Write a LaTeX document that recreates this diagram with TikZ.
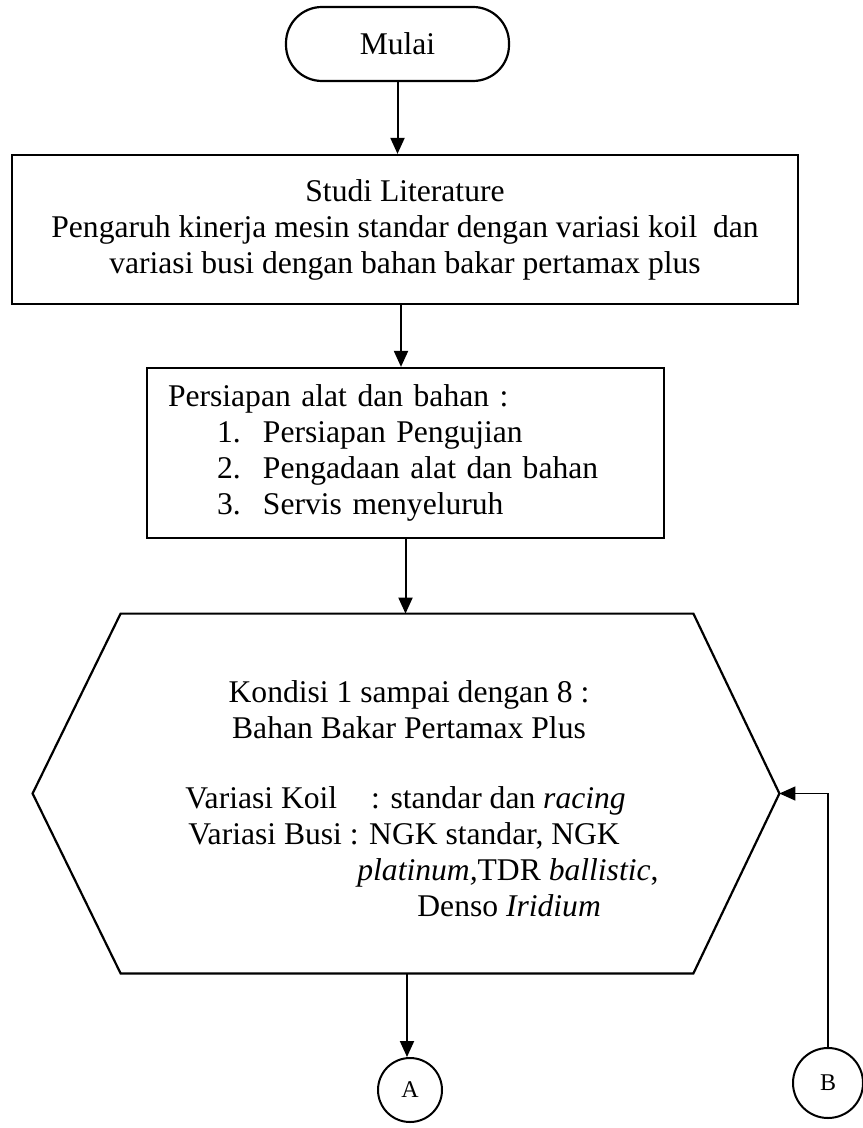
\documentclass[tikz,border=0pt]{standalone}
\usepackage{fontspec}
\setmainfont{Liberation Serif}
\usetikzlibrary{arrows.meta,positioning,calc}
\tikzset{
  flowline/.style={line width=1.1pt},
  arr/.style={-{Triangle[length=8pt,width=7pt]},line width=1pt},
  thinarr/.style={-{Triangle[length=8pt,width=7pt]},line width=0.7pt},
  terminal/.style={draw,line width=1.1pt,rounded corners=18pt,minimum width=111.5pt,minimum height=37pt,inner sep=0pt},
  procbox/.style={draw,line width=1.1pt,inner sep=0pt},
  connector/.style={circle,draw,line width=1pt,inner sep=0pt,font=\fontsize{12}{14}\selectfont}
}

\begin{document}
\begin{tikzpicture}[
  x=0.5pt,y=-0.5pt,
  every node/.style={font=\fontsize{15.8}{18}\selectfont},
  condtext/.style={anchor=base west,inner sep=0pt},
  condhead/.style={anchor=base,inner sep=0pt}
]
\useasboundingbox (0,0) rectangle (862,1128);

\node[terminal] (start) at (397.5,44) {Mulai};

\node[procbox,minimum width=393pt,minimum height=74.5pt,align=center] (study) at (405,229.5)
  {Studi Literature\\
   Pengaruh kinerja mesin standar dengan variasi koil~ dan\\
   variasi busi dengan bahan bakar pertamax plus};

\node[procbox,minimum width=258.5pt,minimum height=85pt,text width=237.5pt,inner xsep=10.5pt,align=left] (prep) at (405.5,453)
  {Persiapan alat dan bahan :\\
   \hspace*{24.5pt}\makebox[23pt][l]{1.}Persiapan Pengujian\\
   \hspace*{24.5pt}\makebox[23pt][l]{2.}Pengadaan alat dan bahan\\
   \hspace*{24.5pt}\makebox[23pt][l]{3.}Servis menyeluruh};

% hexagon
\node[minimum width=286pt,minimum height=179.5pt,inner sep=0pt] (cond) at (407,793.5) {};
\coordinate (condL) at ($(cond.west)+(-88,0)$);
\coordinate (condR) at ($(cond.east)+(86,0)$);
\draw[flowline] (cond.north west) -- (cond.north east) -- (condR) -- (cond.south east)
                -- (cond.south west) -- (condL) -- cycle;

\node[condhead] (condTitle) at (409,702) {Kondisi 1 sampai dengan 8 :};
\node[condhead] (condFuel) at (409,738) {Bahan Bakar Pertamax Plus};
\node[condtext] (condCoil) at (185,808) {Variasi Koil\hspace{17pt}: standar dan \textit{racing}};
\node[condtext] (condPlug) at (188,844) {Variasi Busi : NGK standar, NGK};
\node[condtext] (condPlugB) at (357,880) {\textit{platinum,}TDR \textit{ballistic},};
\node[condtext] (condPlugC) at (417,916) {Denso \textit{Iridium}};

\node[connector,minimum size=32pt] (conA) at (410,1090) {A};
\node[connector,minimum size=35pt] (conB) at (828,1083) {B};

\draw[arr] (start.south) -- (start.south |- study.north);
\draw[arr] ([xshift=-2pt]study.south) -- ([xshift=-2pt]study.south |- prep.north);
\draw[arr] (prep.south) -- (prep.south |- cond.north);
\draw[arr] (cond.south) -- (cond.south |- conA.north);
\draw[thinarr] (conB.north) |- (condR);

\end{tikzpicture}
\end{document}
